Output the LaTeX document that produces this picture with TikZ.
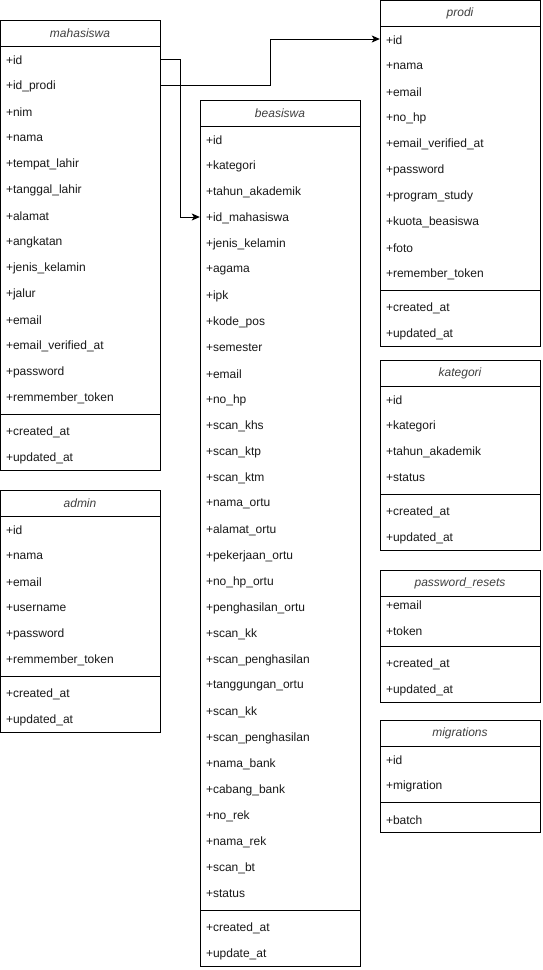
\documentclass[tikz,border=0pt]{standalone}
\usepackage{fontspec}
\setmainfont{Liberation Sans}
\usetikzlibrary{arrows.meta}
\tikzset{
  tbl/.style={draw=black, line width=1pt, fill=white},
  sepline/.style={draw=black, line width=1pt},
  hdr/.style={inner sep=0pt, font=\fontsize{12pt}{14pt}\selectfont\itshape, text=black!75},
  fld/.style={text width=148pt, inner xsep=6pt, inner ysep=0pt, minimum height=26pt, align=left, font=\fontsize{12pt}{14pt}\selectfont, text=black!90, yshift=-1pt},
  conn/.style={draw=black, line width=1pt, -{Stealth[length=8pt,width=7pt,inset=2pt]}}
}
% #1 name, #2 x, #3 top, #4 title, #5 n fields, #6 m footer, #7 fields, #8 footer
\newcommand\ertable[8]{%
  \path[tbl] (#2,#3) rectangle (#2+160,#3+26+26*#5+8+26*#6);
  \draw[sepline] (#2,#3+26) -- (#2+160,#3+26);
  \draw[sepline] (#2,#3+26+26*#5+4) -- (#2+160,#3+26+26*#5+4);
  \node[hdr] (#1) at (#2+80,#3+13) {#4};
  \foreach \f [count=\i] in {#7} {
    \node[fld] (#1-\i) at (#2+80,#3+13+26*\i) {+\f};
  }
  \foreach \f [count=\j] in {#8} {
    \node[fld] (#1-f\j) at (#2+80,#3+26+26*#5+8+26*\j-13) {+\f};
  }
}
\begin{document}
\begin{tikzpicture}[x=1pt,y=-1pt]
\useasboundingbox (0,0) rectangle (542,970);
\ertable{mahasiswa}{0}{20}{mahasiswa}{14}{2}%
  {id,id\_prodi,nim,nama,tempat\_lahir,tanggal\_lahir,alamat,angkatan,jenis\_kelamin,jalur,email,email\_verified\_at,password,remmember\_token}%
  {created\_at,updated\_at}
\ertable{admin}{0}{490}{admin}{6}{2}%
  {id,nama,email,username,password,remmember\_token}%
  {created\_at,updated\_at}
\ertable{beasiswa}{200}{100}{beasiswa}{30}{2}%
  {id,kategori,tahun\_akademik,id\_mahasiswa,jenis\_kelamin,agama,ipk,kode\_pos,semester,email,no\_hp,scan\_khs,scan\_ktp,scan\_ktm,nama\_ortu,alamat\_ortu,pekerjaan\_ortu,no\_hp\_ortu,penghasilan\_ortu,scan\_kk,scan\_penghasilan,tanggungan\_ortu,scan\_kk,scan\_penghasilan,nama\_bank,cabang\_bank,no\_rek,nama\_rek,scan\_bt,status}%
  {created\_at,update\_at}
\ertable{prodi}{380}{0}{prodi}{10}{2}%
  {id,nama,email,no\_hp,email\_verified\_at,password,program\_study,kuota\_beasiswa,foto,remember\_token}%
  {created\_at,updated\_at}
\ertable{kategori}{380}{360}{kategori}{4}{2}%
  {id,kategori,tahun\_akademik,status}%
  {created\_at,updated\_at}
% password_resets (compact rows)
\path[tbl] (380,570) rectangle (540,702);
\draw[sepline] (380,596) -- (540,596);
\draw[sepline] (380,646) -- (540,646);
\node[hdr] (pwreset) at (460,583) {password\_resets};
\node[fld] (pwreset-1) at (460,604) {+email};
\node[fld] (pwreset-2) at (460,630) {+token};
\node[fld] (pwreset-f1) at (460,663) {+created\_at};
\node[fld] (pwreset-f2) at (460,689) {+updated\_at};
\ertable{migrations}{380}{720}{migrations}{2}{1}%
  {id,migration}%
  {batch}
% connectors
\coordinate (bendA) at (180,0);
\coordinate (bendB) at (270,0);
\draw[conn] ([yshift=1pt]mahasiswa-1.east) -- ([yshift=1pt]mahasiswa-1.east -| bendA) |- ([yshift=1pt]beasiswa-4.west);
\draw[conn] ([yshift=1pt]mahasiswa-2.east) -- ([yshift=1pt]mahasiswa-2.east -| bendB) |- ([yshift=1pt]prodi-1.west);
\end{tikzpicture}
\end{document}
